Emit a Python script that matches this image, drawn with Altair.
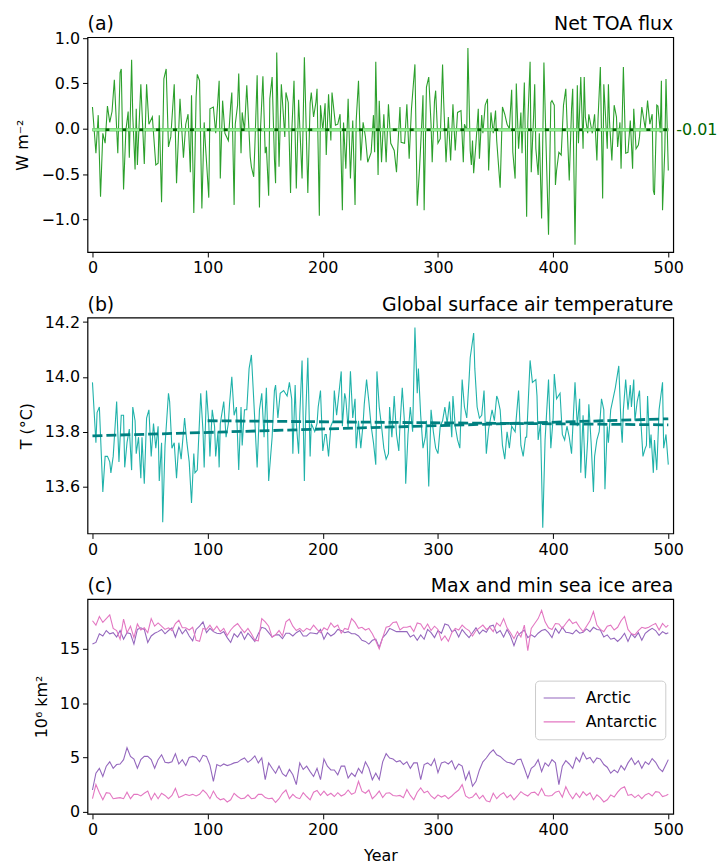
import altair as alt
import pandas as pd

FONT = "DejaVu Sans"
W = 589

panel_letters = ["(a)", "(b)", "(c)"]
panel_names = ["Net TOA flux", "Global surface air temperature", "Max and min sea ice area"]
year_ticks = [0, 100, 200, 300, 400, 500]

# (a) net top-of-atmosphere flux, W m-2
toa_years = [
    0, 3, 5, 7, 9, 11, 13, 15, 17, 19,
    22, 24, 25, 27, 29, 31, 32, 34, 35, 37,
    38, 39, 42, 45, 47, 49, 52, 55, 57, 58,
    60, 62, 64, 66, 68, 71, 73, 76, 79, 81,
    83, 85, 86, 88, 90, 91, 93, 95, 97, 98,
    101, 102, 105, 107, 110, 111, 113, 115, 118, 120,
    121, 123, 124, 126, 127, 129, 130, 132, 134, 137,
    138, 140, 141, 143, 145, 146, 148, 150, 151, 153,
    154, 156, 158, 159, 160, 162, 164, 167, 168, 170,
    172, 173, 175, 177, 179, 182, 184, 187, 189, 190,
    192, 194, 195, 197, 198, 200, 202, 203, 205, 207,
    208, 211, 213, 215, 217, 218, 220, 222, 224, 226,
    228, 229, 231, 233, 235, 237, 239, 242, 244, 245,
    246, 248, 249, 251, 253, 255, 257, 259, 262, 264,
    267, 268, 271, 273, 275, 277, 280, 282, 284, 286,
    287, 288, 290, 292, 294, 295, 297, 298, 300, 302,
    304, 305, 307, 309, 311, 313, 315, 317, 320, 322,
    323, 325, 326, 328, 329, 330, 331, 333, 335, 336,
    338, 339, 341, 343, 344, 346, 348, 350, 351, 354,
    356, 358, 360, 362, 364, 365, 367, 368, 370, 372,
    373, 375, 377, 378, 380, 381, 383, 384, 385, 387,
    388, 390, 392, 394, 396, 398, 399, 401, 402, 403,
    405, 407, 409, 411, 413, 414, 416, 417, 419, 421,
    422, 424, 426, 427, 428, 430, 431, 434, 436, 438,
    439, 441, 443, 444, 447, 448, 449, 451, 453, 455,
    456, 458, 459, 461, 463, 465, 467, 469, 470, 472,
    474, 475, 477, 480, 482, 484, 486, 487, 488, 490,
    491, 493, 494, 495, 497, 498, 500,
]
toa_flux = [
    0.24, -0.27, 0.15, -0.75, -0.05, -0.16, 0.25, 0.07, 0.19, 0.54,
    -0.27, 0.62, 0.66, -0.67, -0.02, 0.19, -0.32, 0.76, 0.14, -0.45,
    0.22, -0.40, 0.49, -0.39, 0.49, 0.05, 0.13, -0.40, -0.38, 0.15,
    -0.81, 0.55, 0.66, -0.20, -0.09, 0.49, -0.60, 0.33, -0.32, 0.05,
    0.16, -0.48, 0.37, -0.93, 0.35, 0.60, 0.53, -0.88, 0.07, -0.16,
    -0.76, 0.22, 0.24, -0.05, 0.53, -0.55, 0.31, -0.05, -0.13, 0.26,
    0.40, -0.84, 0.05, 0.26, 0.61, -0.27, 0.18, -0.02, 0.48, -0.31,
    -0.42, -0.53, -0.20, 0.59, -0.87, 0.02, 0.58, -0.27, -0.20, -0.74,
    0.33, 0.57, -0.33, -0.60, 0.84, -0.42, 0.49, -0.09, 0.40, 0.29,
    -0.71, -0.05, 0.53, -0.66, 0.32, -0.55, 0.79, -0.71, 0.28, 0.40,
    0.13, 0.29, 0.44, -0.96, 0.26, -0.02, 0.28, -0.29, 0.38, -0.13,
    0.40, 0.04, 0.05, 0.16, -0.90, 0.07, -0.44, 0.33, -0.55, 0.09,
    -0.84, 0.09, 0.53, -0.35, 0.07, -0.09, -0.37, -0.26, 0.15, -0.26,
    0.74, -0.51, 0.31, -0.37, 0.16, -0.37, 0.27, -0.16, -0.24, -0.48,
    0.24, -0.15, -0.16, 0.27, -0.33, 0.22, 0.71, -0.85, -0.44, 0.08,
    0.37, -0.90, 0.46, 0.57, 0.05, -0.37, 0.31, 0.42, -0.16, -0.11,
    0.71, 0.29, -0.37, 0.13, -0.35, 0.27, -0.24, 0.18, 0.20, -0.37,
    0.05, -0.02, 0.89, -0.24, -0.40, -0.13, -0.49, -0.16, 0.22, -0.33,
    0.15, -0.05, 0.26, 0.33, -0.46, 0.18, -0.05, 0.20, -0.13, -0.65,
    0.24, 0.16, 0.05, 0.00, 0.43, -0.26, -0.55, 0.50, -0.22, 0.18,
    -0.27, 0.51, -0.97, 0.07, 0.74, -0.48, 0.13, 0.49, -0.22, -0.51,
    -0.05, -0.99, 0.73, -0.24, -1.17, 0.29, 0.31, 0.26, -0.62, -0.46,
    -0.26, -0.29, 0.26, 0.44, -0.24, -0.57, 0.22, 0.44, -1.28, 0.48,
    -0.16, 0.57, -0.22, 0.57, 0.13, -0.05, 0.16, -0.05, 0.16, -0.35,
    0.11, 0.68, -0.77, 0.49, -0.22, 0.49, 0.07, -0.35, 0.26, 0.13,
    -0.20, 0.07, -0.44, 0.68, -0.27, -0.26, 0.09, -0.44, 0.22, -0.22,
    -0.18, -0.09, 0.24, 0.00, 0.31, 0.05, 0.16, -0.68, -0.73, 0.26,
    0.25, -0.04, 0.53, -0.90, -0.22, 0.55, -0.46,
]
toa_mean = -0.01
mean_span = [0, 500]

# (b) global mean surface air temperature, degC
sat_years = [
    0, 3, 4, 6, 9, 11, 13, 15, 16, 18,
    21, 23, 25, 27, 28, 30, 32, 34, 35, 37,
    38, 40, 42, 43, 45, 47, 49, 51, 53, 55,
    57, 58, 60, 61, 63, 66, 67, 69, 71, 73,
    75, 77, 80, 82, 84, 86, 88, 89, 91, 94,
    96, 97, 99, 101, 102, 104, 106, 107, 109, 110,
    111, 114, 116, 118, 119, 121, 123, 125, 127, 129,
    130, 132, 134, 136, 138, 140, 143, 145, 147, 149,
    151, 152, 153, 156, 158, 159, 161, 163, 166, 169,
    171, 173, 174, 176, 177, 179, 180, 182, 184, 185,
    187, 189, 190, 193, 195, 196, 198, 200, 202, 203,
    205, 207, 209, 210, 212, 213, 216, 217, 219, 220,
    222, 224, 226, 228, 229, 231, 233, 235, 236, 238,
    240, 242, 244, 246, 247, 249, 251, 253, 255, 257,
    258, 260, 262, 264, 266, 267, 269, 271, 272, 274,
    276, 278, 280, 282, 283, 285, 287, 289, 290, 292,
    294, 296, 298, 300, 302, 304, 306, 308, 310, 312,
    313, 315, 317, 319, 321, 323, 325, 327, 328, 331,
    332, 334, 336, 338, 340, 342, 344, 347, 349, 351,
    352, 354, 356, 358, 360, 362, 364, 367, 370, 372,
    374, 376, 377, 380, 382, 385, 386, 387, 389, 391,
    393, 396, 398, 400, 401, 403, 406, 408, 410, 412,
    414, 416, 419, 421, 423, 424, 426, 428, 430, 431,
    433, 435, 436, 438, 440, 442, 444, 445, 447, 448,
    450, 452, 454, 457, 459, 460, 461, 463, 465, 467,
    468, 470, 471, 473, 475, 476, 478, 480, 481, 482,
    484, 485, 487, 488, 490, 492, 495, 496, 498, 500,
]
sat_temp = [
    13.98, 13.76, 13.87, 13.89, 13.58, 13.71, 13.71, 13.69, 13.65, 13.71,
    13.91, 13.69, 13.86, 13.86, 13.67, 13.76, 13.81, 13.66, 13.89, 13.84,
    13.72, 13.78, 13.63, 13.78, 13.61, 13.85, 13.88, 13.71, 13.83, 13.74,
    13.82, 13.62, 13.76, 13.47, 13.75, 13.94, 13.91, 13.74, 13.76, 13.63,
    13.76, 13.70, 13.85, 13.76, 13.69, 13.54, 13.72, 13.65, 13.66, 13.94,
    13.80, 13.67, 13.95, 13.83, 13.71, 13.88, 13.82, 13.71, 13.80, 13.67,
    13.83, 13.91, 13.78, 13.83, 13.90, 14.00, 13.86, 13.89, 13.66, 13.89,
    13.75, 13.88, 13.88, 14.03, 14.08, 13.92, 13.67, 13.88, 13.94, 13.78,
    13.96, 13.82, 13.62, 13.78, 13.95, 13.97, 13.85, 13.94, 13.95, 13.93,
    13.98, 13.92, 13.72, 13.97, 13.83, 13.72, 13.86, 14.06, 13.62, 13.84,
    14.07, 13.71, 13.83, 13.80, 13.83, 13.89, 13.95, 13.73, 13.79, 13.79,
    13.71, 13.82, 13.84, 13.95, 13.86, 13.90, 14.02, 13.82, 13.94, 13.92,
    13.81, 14.02, 13.85, 13.92, 13.74, 13.84, 13.74, 13.83, 13.90, 13.99,
    13.91, 13.82, 13.76, 13.68, 14.02, 13.89, 13.82, 13.74, 13.70, 13.72,
    13.89, 13.78, 13.93, 13.79, 13.73, 13.82, 13.96, 13.83, 13.61, 13.79,
    13.89, 13.80, 14.18, 13.94, 14.03, 13.86, 13.74, 13.78, 13.84, 13.60,
    13.88, 13.80, 13.74, 13.72, 13.82, 13.84, 13.89, 13.83, 13.91, 13.78,
    13.93, 13.82, 13.77, 13.74, 13.99, 13.89, 13.85, 13.99, 14.07, 14.16,
    14.03, 13.89, 13.85, 13.86, 13.95, 13.72, 13.81, 13.88, 13.84, 13.93,
    13.92, 13.88, 13.75, 13.70, 13.80, 13.74, 13.82, 13.80, 13.95, 13.75,
    13.71, 13.78, 13.78, 14.06, 13.98, 13.99, 13.93, 13.77, 13.83, 13.45,
    13.77, 13.99, 13.74, 13.85, 14.01, 13.92, 13.94, 13.79, 13.77, 13.82,
    13.78, 13.72, 13.98, 13.82, 13.92, 13.65, 13.86, 13.63, 13.77, 13.90,
    13.76, 13.58, 13.71, 13.77, 13.80, 13.92, 13.88, 13.59, 13.82, 13.76,
    13.88, 13.92, 13.96, 14.04, 13.82, 13.76, 13.88, 13.99, 13.88, 13.97,
    13.89, 13.99, 13.84, 13.91, 13.95, 13.85, 13.71, 13.74, 13.75, 13.93,
    13.74, 13.79, 13.65, 13.77, 13.66, 13.88, 13.98, 13.74, 13.79, 13.68,
]
# linear trends: whole run, and after the first century
trend_all_years = [0, 500]
trend_all_temp = [13.785, 13.847]
trend_late_years = [100, 500]
trend_late_temp = [13.840, 13.825]

# (c) annual max / min sea ice area, 10^6 km2, every third year
ice_years = list(range(0, 499, 3)) + [500]
arctic_max = [
    15.45, 15.6, 16.4, 16.2, 16.7, 16.4, 16.5, 16.1, 16.7, 15.9,
    16.5, 16.4, 15.45, 16.8, 16.95, 16.8, 15.6, 16.2, 16.45, 16.6,
    16.8, 16.4, 16.7, 16.95, 16.1, 17.0, 16.4, 16.8, 16.2, 15.75,
    16.8, 17.1, 17.5, 16.5, 16.9, 16.6, 16.45, 16.4, 16.6, 16.05,
    15.6, 16.4, 16.1, 16.6, 15.9, 16.45, 16.1, 15.7, 16.4, 17.0,
    16.9, 16.5, 16.1, 16.3, 16.3, 15.95, 16.45, 16.45, 16.2, 16.5,
    16.7, 16.2, 16.2, 16.5, 16.45, 16.4, 16.8, 15.9, 16.5, 16.2,
    16.4, 16.8, 16.7, 16.5, 16.6, 16.4, 16.4, 16.2, 15.8, 15.7,
    15.45, 15.8, 15.9, 15.15, 16.05,
    16.4, 16.9, 16.75, 16.6, 16.6, 16.6, 16.6, 16.1, 16.3, 15.8,
    16.3, 15.9, 16.8, 16.5, 16.05, 16.7, 16.45, 17.3, 17.2, 16.6,
    16.75, 16.1, 16.8, 16.4, 16.05, 16.5, 16.95, 16.4, 16.75, 16.55,
    17.1, 17.2, 16.45, 16.7, 16.1, 16.8, 16.2, 15.3, 16.2, 16.5,
    16.75, 16.05, 16.3, 16.1, 16.45, 16.7, 16.8, 16.5, 16.05, 16.9,
    16.45, 17.0, 16.55, 16.5, 16.4, 16.75, 16.45, 16.55, 16.85, 16.6,
    17.0, 16.8, 16.75, 16.1, 16.3, 15.9, 16.0, 15.7, 16.0, 16.45,
    15.7, 16.4, 16.05, 16.5, 15.8, 16.45, 16.7, 16.9, 16.7, 16.25,
    16.6, 16.4, 16.5,
]
antarctic_max = [
    17.6, 17.2, 18.0, 17.45, 17.8, 18.15, 16.9, 16.7, 15.9, 17.75,
    16.5, 17.1, 16.05, 17.3, 16.75, 16.95, 16.5, 17.8, 17.1, 17.4,
    17.1, 16.8, 16.95, 16.7, 17.35, 17.65, 16.95, 16.95, 16.75, 17.0,
    15.8, 15.7, 16.9, 16.8, 17.2, 16.7, 17.1, 16.6, 16.9, 16.25,
    16.75, 17.1, 17.35, 16.9, 16.5, 16.9, 16.4, 15.8, 15.75, 17.8,
    17.5, 17.1, 16.1, 16.3, 16.7, 16.2, 17.5, 17.75, 17.1, 16.7,
    16.9, 16.6, 16.9, 16.75, 17.2, 16.8, 16.5, 16.95, 16.75, 17.4,
    17.0, 17.2, 16.45, 16.9, 16.8, 17.8, 17.45, 16.9, 17.0, 16.75,
    16.9, 16.4, 15.75, 15.0, 16.05,
    17.0, 17.1, 17.45, 17.5, 16.75, 17.0, 17.0, 17.1, 16.6, 17.4,
    17.3, 16.8, 17.3, 16.7, 17.1, 16.8, 15.8, 16.2, 15.7, 16.5,
    16.9, 16.75, 17.2, 16.9, 16.7, 16.2, 16.7, 16.95, 17.2, 16.8,
    17.0, 16.6, 17.4, 17.1, 17.8, 16.95, 16.5, 15.95, 16.6, 16.1,
    17.2, 14.85, 16.9, 17.35, 17.8, 18.55, 17.5, 16.95, 16.8, 17.35,
    17.3, 16.9, 17.35, 17.75, 17.35, 17.5, 17.0, 16.6, 17.1, 17.6,
    18.45, 17.2, 16.8, 16.6, 17.1, 17.2, 16.75, 17.0, 17.6, 18.0,
    16.8, 16.4, 16.3, 16.7, 17.0, 16.9, 17.0, 17.2, 17.35, 16.75,
    17.35, 17.0, 17.2,
]
arctic_min = [
    2.0, 3.55, 4.0, 3.25, 4.2, 4.6, 4.0, 4.35, 4.4, 4.8,
    5.9, 5.1, 4.85, 4.0, 4.8, 5.1, 5.1, 4.8, 4.0, 4.8,
    5.25, 4.55, 4.5, 4.6, 5.35, 4.4, 4.8, 4.25, 5.0, 5.1,
    5.0, 4.6, 5.2, 5.1, 4.3, 2.8, 4.35, 4.2, 4.4, 4.25,
    4.35, 4.5, 4.55, 4.8, 4.95, 4.55, 4.8, 5.15, 4.5, 4.95,
    2.95, 4.5, 4.0, 3.55, 4.2, 3.5, 3.25, 3.9, 3.4, 2.5,
    4.5, 3.9, 4.2, 3.7, 3.25, 4.0, 2.95, 4.85, 4.2, 3.85,
    3.85, 3.4, 4.2, 4.2, 3.1, 3.55, 3.25, 4.0, 3.55, 4.6,
    4.0, 2.95, 3.55, 2.95, 4.6,
    5.35, 4.95, 4.85, 4.6, 4.7, 4.35, 4.6, 4.0, 4.5, 4.5,
    2.95, 4.35, 4.5, 4.25, 4.85, 3.6, 4.5, 4.6, 4.4, 4.7,
    3.9, 4.4, 4.2, 2.95, 3.7, 2.35, 2.8, 3.85, 4.6, 4.95,
    5.4, 5.7, 5.25, 5.1, 4.8, 4.55, 4.5, 4.35, 4.8, 4.85,
    4.0, 3.1, 4.0, 4.25, 4.8, 3.7, 4.5, 4.2, 4.8, 4.5,
    2.5, 4.2, 4.7, 4.4, 4.0, 5.0, 4.6, 5.45, 4.85, 5.0,
    4.5, 4.95, 4.85, 4.35, 4.1, 3.55, 3.85, 3.6, 4.25, 3.85,
    4.5, 4.95, 4.35, 4.7, 4.0, 4.6, 4.35, 4.9, 4.55, 4.0,
    3.7, 4.35, 4.8,
]
antarctic_min = [
    1.2, 2.5, 1.75, 1.1, 1.75, 1.7, 1.2, 1.25, 1.3, 1.2,
    1.8, 1.2, 1.6, 1.6, 1.45, 1.7, 1.9, 1.1, 1.7, 1.2,
    1.7, 1.5, 1.2, 1.5, 2.15, 1.3, 1.45, 1.6, 1.5, 1.6,
    1.45, 1.6, 2.0, 1.7, 1.2, 1.9, 1.35, 1.1, 1.2, 0.9,
    1.1, 1.7, 1.4, 1.2, 1.25, 1.55, 1.2, 1.25, 1.6, 1.6,
    1.3, 1.2, 1.25, 0.85, 1.2, 1.7, 2.0, 1.2, 1.6, 1.3,
    1.2, 1.75, 1.4, 1.1, 1.8, 1.95, 1.5, 1.9, 1.5, 1.7,
    1.4, 1.75, 1.45, 1.6, 2.0, 1.6, 1.75, 2.8, 1.9, 1.7,
    2.0, 1.2, 1.5, 1.9, 1.3,
    1.7, 1.75, 1.5, 1.45, 1.5, 1.3, 2.05, 1.5, 1.1, 1.8,
    2.2, 1.75, 1.9, 1.45, 1.2, 1.55, 1.35, 1.5, 1.2, 1.45,
    1.75, 2.0, 2.5, 1.45, 1.25, 1.35, 1.7, 1.2, 1.5, 1.0,
    0.9, 1.7, 1.2, 1.55, 1.75, 1.3, 1.55, 1.1, 1.45, 1.85,
    1.6, 1.45, 1.75, 1.8, 1.5, 2.15, 1.5, 1.45, 1.5, 1.8,
    1.9, 1.35, 2.3, 1.65, 1.2, 1.7, 1.3, 1.85, 1.5, 1.75,
    1.1, 1.55, 1.3, 0.9, 1.1, 1.55, 1.35, 1.8, 2.15, 2.3,
    1.5, 1.6, 1.3, 1.55, 1.2, 1.55, 1.7, 1.45, 1.85, 1.8,
    1.4, 1.5, 1.6,
]

hemispheres = ["Arctic", "Antarctic"]
hemisphere_colors = ["#9467bd", "#e377c2"]

x_scale = alt.Scale(domain=[-4.3, 504.3], nice=False, zero=False)


def x_enc(title=None):
    axis = alt.Axis(values=year_ticks, format="d", title=title)
    return alt.X("year:Q", scale=x_scale, axis=axis)


def heading(i):
    df = pd.DataFrame({"letter": [panel_letters[i]], "name": [panel_names[i]]})
    style = dict(baseline="alphabetic", fontSize=19, font=FONT, color="black")
    left = alt.Chart(df).mark_text(align="left", **style).encode(
        x=alt.value(0), y=alt.value(-7), text="letter:N")
    right = alt.Chart(df).mark_text(align="right", **style).encode(
        x=alt.value(W), y=alt.value(-7), text="name:N")
    return left + right


# ---- panel (a) ----
toa_df = pd.DataFrame({"year": toa_years, "flux": toa_flux})
mean_df = pd.DataFrame({"year": mean_span, "flux": [toa_mean, toa_mean]})
mean_label = pd.DataFrame({"flux": [toa_mean], "label": [f"{toa_mean:.2f}"]})
y_a = alt.Scale(domain=[-1.36, 1.01], nice=False, zero=False)

a_line = alt.Chart(toa_df).mark_line(color="#2ca02c", strokeWidth=1.1).encode(
    x=x_enc(),
    y=alt.Y("flux:Q", scale=y_a,
            axis=alt.Axis(values=[-1.0, -0.5, 0.0, 0.5, 1.0], format=".1f", title="W m⁻²")),
)
a_mean_dark = alt.Chart(mean_df).mark_line(color="#006400", strokeWidth=3).encode(
    x="year:Q", y="flux:Q")
a_mean_light = alt.Chart(mean_df).mark_line(
    color="#90ee90", strokeWidth=3, strokeDash=[13, 4]).encode(x="year:Q", y="flux:Q")
a_text = alt.Chart(mean_label).mark_text(
    align="left", baseline="middle", fontSize=16, font=FONT, color="#006400").encode(
    x=alt.value(W + 3), y="flux:Q", text="label:N")
panel_a = alt.layer(a_line, a_mean_dark, a_mean_light, a_text, heading(0)).properties(
    width=W, height=216)

# ---- panel (b) ----
sat_df = pd.DataFrame({"year": sat_years, "temp": sat_temp})
trend_all = pd.DataFrame({"year": trend_all_years, "temp": trend_all_temp})
trend_late = pd.DataFrame({"year": trend_late_years, "temp": trend_late_temp})
y_b = alt.Scale(domain=[13.429, 14.216], nice=False, zero=False)

b_line = alt.Chart(sat_df).mark_line(color="#20b2aa", strokeWidth=1.1).encode(
    x=x_enc(),
    y=alt.Y("temp:Q", scale=y_b,
            axis=alt.Axis(values=[13.6, 13.8, 14.0, 14.2], format=".1f", title="T (°C)")),
)
trend_style = dict(color="#008080", strokeWidth=2.8, strokeDash=[10, 4])
b_trend1 = alt.Chart(trend_all).mark_line(**trend_style).encode(x="year:Q", y="temp:Q")
b_trend2 = alt.Chart(trend_late).mark_line(**trend_style).encode(x="year:Q", y="temp:Q")
panel_b = alt.layer(b_line, b_trend1, b_trend2, heading(1)).properties(width=W, height=217)

# ---- panel (c) ----
ice_rows = []
for hemi, kind, vals in [("Arctic", "max", arctic_max), ("Antarctic", "max", antarctic_max),
                         ("Arctic", "min", arctic_min), ("Antarctic", "min", antarctic_min)]:
    assert len(vals) == len(ice_years), (hemi, kind, len(vals))
    for yr, v in zip(ice_years, vals):
        ice_rows.append({"year": yr, "area": v, "hemisphere": hemi, "series": f"{hemi} {kind}"})
ice_df = pd.DataFrame(ice_rows)

c_lines = alt.Chart(ice_df).mark_line(strokeWidth=1.1).encode(
    x=x_enc("Year"),
    y=alt.Y("area:Q", scale=alt.Scale(domain=[-0.2, 19.6], nice=False, zero=False),
            axis=alt.Axis(values=[0, 5, 10, 15], format="d", title="10⁶ km²")),
    color=alt.Color("hemisphere:N",
                    scale=alt.Scale(domain=hemispheres, range=hemisphere_colors),
                    legend=alt.Legend(title=None, orient="none", legendX=450, legendY=82,
                                      symbolType="stroke", symbolSize=1000,
                                      symbolStrokeWidth=1.2, labelFontSize=16,
                                      labelFont=FONT, labelColor="black",
                                      fillColor="white", strokeColor="#cccccc",
                                      cornerRadius=4, padding=8, rowPadding=5,
                                      clipHeight=19, labelOffset=10)),
    detail="series:N",
)
panel_c = alt.layer(c_lines, heading(2)).properties(width=W, height=216)

chart = alt.vconcat(panel_a, panel_b, panel_c, spacing=18).resolve_scale(
    color="independent"
).resolve_legend(
    color="independent"
).properties(
    padding={"left": 14, "top": 12, "right": 0, "bottom": 0}
).configure_axis(
    grid=False, domain=False,
    labelFont=FONT, labelFontSize=16, labelColor="black", labelPadding=3,
    tickColor="black", tickSize=5, tickWidth=1,
    titleFont=FONT, titleFontSize=16, titleFontWeight="normal", titleColor="black",
    titlePadding=10,
).configure_view(stroke="black", strokeWidth=1.2)

chart.save("out.html", embed_options={"renderer": "svg", "actions": False})
